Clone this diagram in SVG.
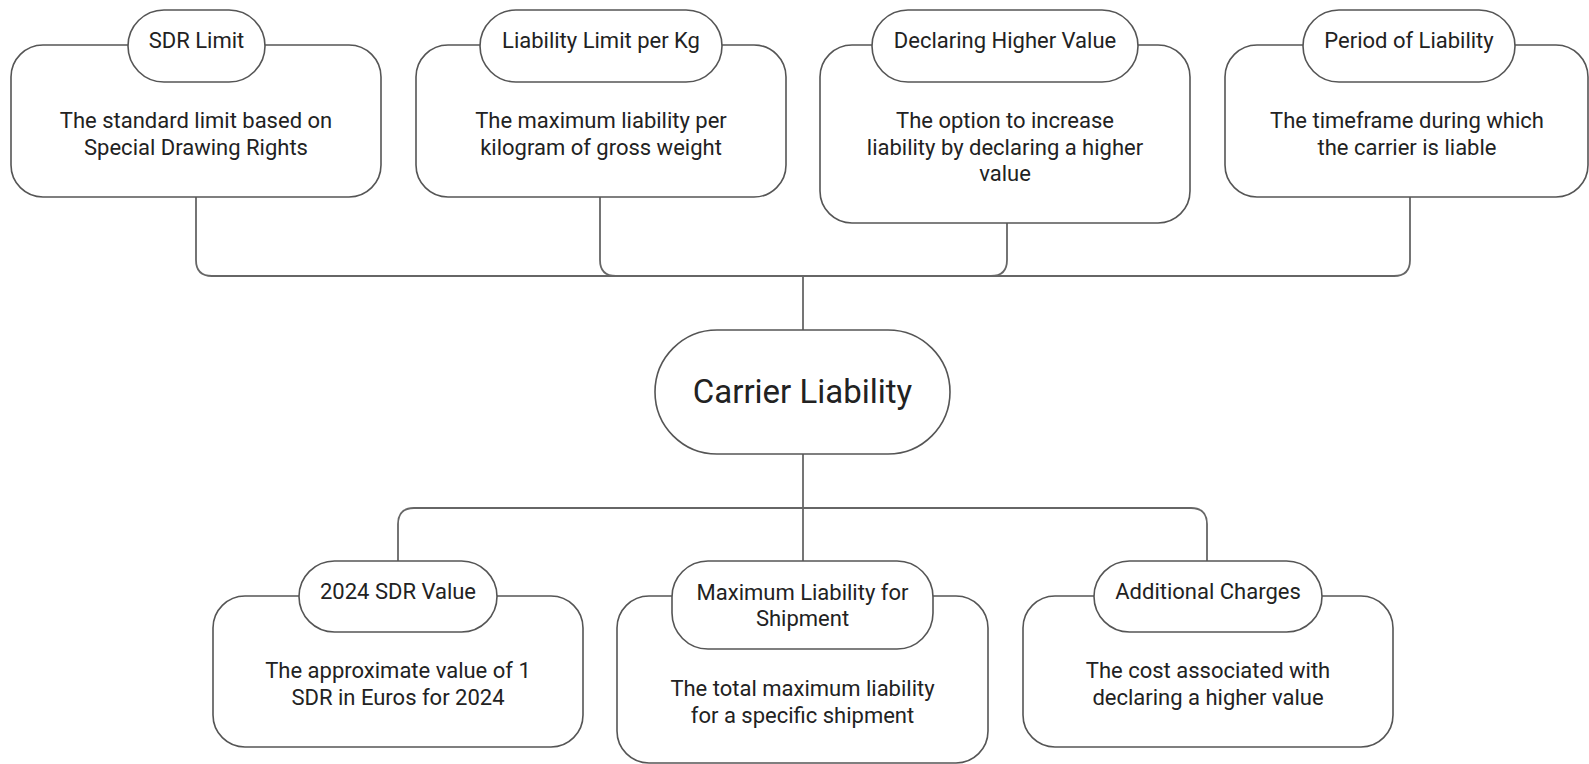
<svg xmlns="http://www.w3.org/2000/svg" width="1589" height="764" viewBox="0 0 1589 764">
<style>
.box{fill:#fff;stroke:#555;stroke-width:1.6}
.conn{fill:none;stroke:#666;stroke-width:1.8}
text{font-family:Roboto,"Liberation Sans",sans-serif;fill:#222;text-anchor:middle}
.lbl{font-size:22px}
.desc{font-size:22px}
.main{font-size:33px}
</style>
<rect width="1589" height="764" fill="#fff"/>
<g id="connectors">
<path class="conn" d="M196,197 V260 Q196,276 212,276 H803"/>
<path class="conn" d="M600,197 V260 Q600,276 616,276 H803"/>
<path class="conn" d="M1007,223 V260 Q1007,276 991,276 H803"/>
<path class="conn" d="M1410,197 V260 Q1410,276 1394,276 H803"/>
<path class="conn" d="M803,276 V330"/>
<path class="conn" d="M803,454 V508"/>
<path class="conn" d="M803,508 H414 Q398,508 398,524 V561"/>
<path class="conn" d="M803,508 V561"/>
<path class="conn" d="M803,508 H1191 Q1207,508 1207,524 V561"/>
</g>
<g id="center">
<rect class="box" x="655" y="330" width="295" height="124" rx="62"/>
<text class="main" x="802.5" y="403">Carrier Liability</text>
</g>
<g id="sdr-limit">
<rect class="box" x="11" y="45" width="370" height="152" rx="32"/>
<rect class="box" x="128" y="10" width="137" height="72" rx="36"/>
<text class="lbl" x="196.5" y="48">SDR Limit</text>
<text class="desc" x="196" y="128">The standard limit based on</text>
<text class="desc" x="196" y="155">Special Drawing Rights</text>
</g>
<g id="liability-per-kg">
<rect class="box" x="416" y="45" width="370" height="152" rx="32"/>
<rect class="box" x="480" y="10" width="242" height="72" rx="36"/>
<text class="lbl" x="601" y="48">Liability Limit per Kg</text>
<text class="desc" x="601" y="128">The maximum liability per</text>
<text class="desc" x="601" y="155">kilogram of gross weight</text>
</g>
<g id="declaring-higher-value">
<rect class="box" x="820" y="45" width="370" height="178" rx="32"/>
<rect class="box" x="872" y="10" width="266" height="72" rx="36"/>
<text class="lbl" x="1005" y="48">Declaring Higher Value</text>
<text class="desc" x="1005" y="128">The option to increase</text>
<text class="desc" x="1005" y="155">liability by declaring a higher</text>
<text class="desc" x="1005" y="181">value</text>
</g>
<g id="period-of-liability">
<rect class="box" x="1225" y="45" width="363" height="152" rx="32"/>
<rect class="box" x="1303" y="10" width="212" height="72" rx="36"/>
<text class="lbl" x="1409" y="48">Period of Liability</text>
<text class="desc" x="1407" y="128">The timeframe during which</text>
<text class="desc" x="1407" y="155">the carrier is liable</text>
</g>
<g id="sdr-value-2024">
<rect class="box" x="213" y="596" width="370" height="151" rx="32"/>
<rect class="box" x="299" y="561" width="198" height="71" rx="35.5"/>
<text class="lbl" x="398" y="599">2024 SDR Value</text>
<text class="desc" x="398" y="678">The approximate value of 1</text>
<text class="desc" x="398" y="705">SDR in Euros for 2024</text>
</g>
<g id="maximum-liability">
<rect class="box" x="617" y="596" width="371" height="167" rx="32"/>
<rect class="box" x="672" y="561" width="261" height="88" rx="36"/>
<text class="lbl" x="802.5" y="600">Maximum Liability for</text>
<text class="lbl" x="802.5" y="626">Shipment</text>
<text class="desc" x="802.5" y="696">The total maximum liability</text>
<text class="desc" x="802.5" y="723">for a specific shipment</text>
</g>
<g id="additional-charges">
<rect class="box" x="1023" y="596" width="370" height="151" rx="32"/>
<rect class="box" x="1094" y="561" width="228" height="71" rx="35.5"/>
<text class="lbl" x="1208" y="599">Additional Charges</text>
<text class="desc" x="1208" y="678">The cost associated with</text>
<text class="desc" x="1208" y="705">declaring a higher value</text>
</g>
</svg>
